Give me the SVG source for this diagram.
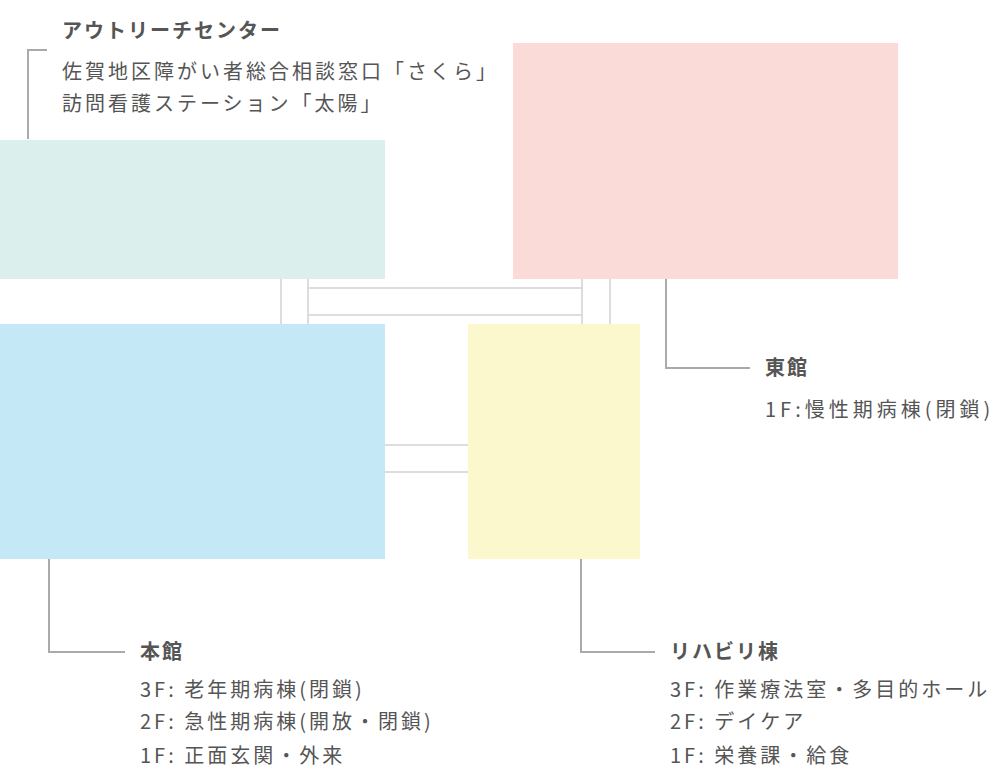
<svg xmlns="http://www.w3.org/2000/svg" width="1000" height="771" viewBox="0 0 1000 771">
<style>
.t{font-family:"Noto Sans CJK JP",sans-serif;font-size:20px;font-weight:bold;fill:#555;letter-spacing:2px}
.s{font-family:"Noto Sans CJK JP",sans-serif;font-size:20px;fill:#555;letter-spacing:3px}
.e{letter-spacing:4px}
.c{stroke:#ddd;stroke-width:2;fill:none}
.l{stroke:#aaa;stroke-width:2;fill:none}
</style>
<rect width="1000" height="771" fill="#fff"/>
<g id="connectors">
<path class="c" d="M281 279V324M308 279V324M582 279V324M610 279V324M309 288H582M309 315H582M385 445H468M385 472H468"/>
<path class="l" d="M28 139V50H47M666 279V368H750M49 559V652H125M581 559V652H655"/>
</g>
<g id="outreach"><rect x="0" y="140" width="385" height="139" fill="#dbf0ed"/>
<text class="t" x="62" y="38">アウトリーチセンター</text>
<text class="s" x="62" y="79">佐賀地区障がい者総合相談窓口「さくら」</text>
<text class="s" x="62" y="111">訪問看護ステーション「太陽」</text></g>
<g id="east"><rect x="513" y="43" width="385" height="236" fill="#fadbd8"/>
<text class="t" x="765" y="375">東館</text>
<text class="s e" x="765" y="417">1F:慢性期病棟(閉鎖)</text></g>
<g id="main"><rect x="0" y="324" width="385" height="235" fill="#c5e8f7"/>
<text class="t" x="140" y="659">本館</text>
<text class="s" x="140" y="697">3F: 老年期病棟(閉鎖)</text>
<text class="s" x="140" y="729">2F: 急性期病棟(開放・閉鎖)</text>
<text class="s" x="140" y="763">1F: 正面玄関・外来</text></g>
<g id="rehab"><rect x="468" y="324" width="172" height="235" fill="#faf8cc"/>
<text class="t" x="670" y="659">リハビリ棟</text>
<text class="s" x="670" y="697">3F: 作業療法室・多目的ホール</text>
<text class="s" x="670" y="729">2F: デイケア</text>
<text class="s" x="670" y="763">1F: 栄養課・給食</text></g>
</svg>
